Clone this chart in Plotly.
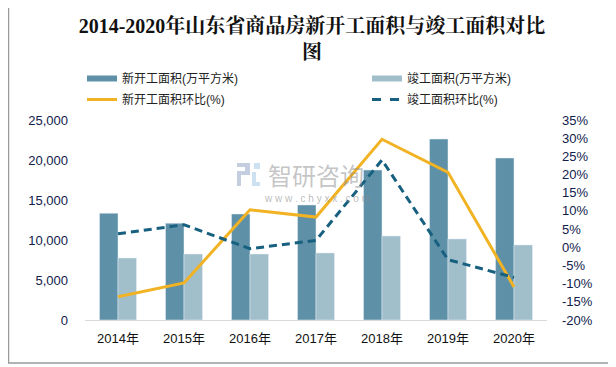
import plotly.graph_objects as go

years = ["2014年", "2015年", "2016年", "2017年", "2018年", "2019年", "2020年"]
new_start = [13340, 12100, 13250, 14380, 18750, 22620, 20250]
completed = [7750, 8250, 8250, 8380, 10500, 10130, 9380]
new_start_yoy = [-13.6, -9.8, 10.3, 8.3, 29.7, 20.6, -10.9]
completed_yoy = [3.7, 6.2, -0.4, 1.9, 24.0, -3.4, -8.3]

left_ticks = [0, 5000, 10000, 15000, 20000, 25000]
right_ticks = [-20, -15, -10, -5, 0, 5, 10, 15, 20, 25, 30, 35]
right_labels = [f"{v}%" for v in right_ticks]

C_DARK = "#5E91A8"
C_LIGHT = "#A1BECB"
C_ORANGE = "#F1B324"
C_TEAL = "#17607F"

FONT = "Liberation Sans, Arial, Noto Sans CJK SC, sans-serif"

# the page body has an 8px default margin; layout below is in figure pixels
W, H = 616, 367
L, R, T, B = 77, 77, 112, 55
PW, PH = W - L - R, H - T - B


def px(fx):
    return (fx - L) / PW


def py(fy):
    return (H - B - fy) / PH


fig = go.Figure()
fig.add_trace(go.Bar(x=years, y=new_start, name="新开工面积(万平方米)", marker_color=C_DARK,
                     showlegend=False, legendgroup="a"))
fig.add_trace(go.Bar(x=years, y=completed, name="竣工面积(万平方米)", marker_color=C_LIGHT,
                     showlegend=False, legendgroup="b"))
fig.add_trace(go.Scatter(x=years, y=new_start_yoy, name="新开工面积环比(%)", yaxis="y2",
                         mode="lines", line=dict(color=C_ORANGE, width=3), legendgroup="c",
                         showlegend=False))
fig.add_trace(go.Scatter(x=years, y=completed_yoy, name="竣工面积环比(%)", yaxis="y2",
                         mode="lines", line=dict(color=C_TEAL, width=3, dash="8px,5px"),
                         legendgroup="d", showlegend=False))

# legend-only entries (wide bar swatches like the reference), split over two legends
legend_items = [("新开工面积(万平方米)", C_DARK, 6, "solid", "a", "legend"),
                ("新开工面积环比(%)", C_ORANGE, 3, "solid", "c", "legend"),
                ("竣工面积(万平方米)", C_LIGHT, 6, "solid", "b", "legend2"),
                ("竣工面积环比(%)", C_TEAL, 3, "dash", "d", "legend2")]
for name, col, w, dash, grp, leg in legend_items:
    fig.add_trace(go.Scatter(x=[None], y=[None], name=name, mode="lines",
                             line=dict(color=col, width=w, dash=dash), legendgroup=grp,
                             legend=leg))

legend_common = dict(orientation="v", xanchor="left", yref="container", yanchor="top",
                     xref="container", y=1 - 56 / H, bgcolor="rgba(0,0,0,0)",
                     font=dict(family=FONT, size=12, color="#222222"),
                     itemwidth=30, tracegroupgap=2)

# watermark logo (screen coords of reference minus 8px page margin)
LOGO_A = "#C5CEDF"
LOGO_B = "#CDE1F0"
logo_rects = [(229, 155, 242, 159, LOGO_A), (237, 155, 242, 167, LOGO_A),
              (229, 163, 242, 167, LOGO_A), (229, 163, 233, 178, LOGO_A),
              (246, 155, 252, 161, LOGO_B), (244, 164, 248, 178, LOGO_B),
              (244, 174, 252, 178, LOGO_B)]
shapes = [dict(type="rect", xref="paper", yref="paper",
               x0=px(0.5), x1=px(604), y0=py(355), y1=py(-9),
               line=dict(color="#9A9A9A", width=1.5), fillcolor="rgba(0,0,0,0)", layer="below")]
for x0, y0, x1, y1, c in logo_rects:
    shapes.append(dict(type="rect", xref="paper", yref="paper", x0=px(x0), x1=px(x1),
                       y0=py(y1), y1=py(y0), line=dict(width=0), fillcolor=c, layer="below"))

fig.update_layout(
    width=W, height=H,
    margin=dict(l=L, r=R, t=T, b=B, autoexpand=False),
    paper_bgcolor="white", plot_bgcolor="white",
    barmode="group", bargap=0.44, bargroupgap=0,
    title=dict(text="<b>2014-2020年山东省商品房新开工面积与竣工面积对比<br>图</b>",
               x=304 / W, xanchor="center", y=0.932, yanchor="top",
               font=dict(family="Liberation Serif, Noto Serif CJK SC, Noto Sans CJK SC, serif",
                         size=20, color="#111111")),
    legend=dict(x=74 / W, **legend_common),
    legend2=dict(x=359 / W, **legend_common),
    font=dict(family=FONT, size=13, color="#1a1a2e"),
    xaxis=dict(showline=True, linecolor="#D9D9D9", linewidth=1, ticks="", showgrid=False,
               tickfont=dict(size=13, color="#111111"), ticklabelstandoff=6),
    yaxis=dict(range=[0, 25000], tickvals=left_ticks, tickformat=",", showgrid=False,
               zeroline=False, showline=False, ticklabelstandoff=16,
               tickfont=dict(size=13, color="#10204a")),
    yaxis2=dict(range=[-20, 35], tickvals=right_ticks, ticktext=right_labels, overlaying="y",
                side="right", showgrid=False, zeroline=False, showline=False,
                ticklabelstandoff=14, tickfont=dict(size=13, color="#10204a")),
    shapes=shapes,
    annotations=[
        dict(text="智研咨询", xref="paper", yref="paper", x=px(308), y=py(166),
             xanchor="center", yanchor="middle", showarrow=False,
             font=dict(family="Noto Sans CJK SC", size=24, color="rgba(140,140,140,0.5)")),
        dict(text="w w w . c h y x x . c o m", xref="paper", yref="paper",
             x=px(309), y=py(190), xanchor="center", yanchor="middle", showarrow=False,
             font=dict(family=FONT, size=10, color="rgba(140,140,140,0.6)")),
    ],
)

fig.write_html("out.html")
